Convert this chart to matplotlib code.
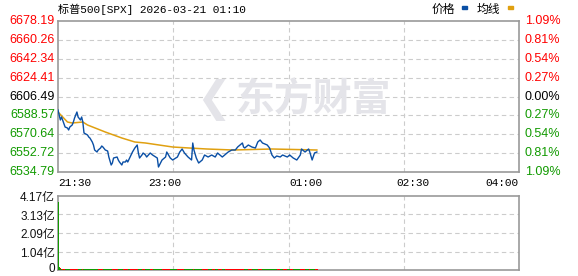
import numpy as np
import matplotlib.pyplot as plt

# ---- data ----
PREV_CLOSE = 6606.49
price_levels = [6678.19, 6660.26, 6642.34, 6624.41, 6606.49, 6588.57, 6570.64, 6552.72, 6534.79]
pct_labels = ['1.09%', '0.81%', '0.54%', '0.27%', '0.00%', '0.27%', '0.54%', '0.81%', '1.09%']
vol_levels = [0, 1.04, 2.09, 3.13, 4.17]
vol_labels = ['0', '1.04亿', '2.09亿', '3.13亿', '4.17亿']

# minutes after 21:30
tick_pos = [0, 90, 210, 300, 390]
tick_labels = ['21:30', '23:00', '01:00', '02:30', '04:00']

price_min = [0, 2, 3, 6, 8, 9, 10, 12, 13, 14, 16, 17, 19, 20, 21, 22, 25, 26, 27, 29,
             30, 31, 33, 34, 36, 37, 38, 40, 42, 43, 45, 46, 47, 50, 51, 52, 54, 55, 57, 58,
             59, 61, 63, 65, 67, 68, 69, 71, 72, 74, 75, 78, 80, 84, 85, 88, 91, 92, 95, 97,
             101, 103, 105, 107, 110, 113, 114, 115, 117, 119, 122, 124, 127, 130, 133, 135,
             139, 141, 144, 147, 150, 152, 156, 157, 158, 161, 164, 167, 169, 171, 173, 177,
             179, 181, 183, 185, 188, 190, 194, 196, 199, 202, 205, 206, 209, 212, 213, 215,
             217, 219]
price = [6593.67, 6584.17, 6587.02, 6577.52, 6576.57, 6574.67, 6577.52, 6579.42, 6582.27,
         6586.07, 6591.77, 6587.02, 6584.17, 6587.02, 6582.27, 6571.82, 6569.92, 6568.02,
         6567.08, 6563.28, 6560.43, 6555.68, 6553.78, 6555.68, 6557.58, 6559.48, 6558.53,
         6555.68, 6554.73, 6549.03, 6541.43, 6543.33, 6548.08, 6549.03, 6546.18, 6544.28,
         6541.43, 6544.28, 6544.28, 6546.18, 6544.28, 6549.03, 6553.78, 6557.58, 6560.43,
         6552.83, 6548.08, 6550.93, 6552.83, 6550.93, 6549.03, 6552.83, 6550.93, 6548.08,
         6539.53, 6546.18, 6549.03, 6553.78, 6548.08, 6546.18, 6549.03, 6553.78, 6556.63,
         6552.83, 6549.03, 6546.18, 6562.33, 6555.68, 6548.08, 6543.33, 6546.18, 6550.93,
         6549.03, 6550.93, 6549.03, 6552.83, 6549.03, 6550.93, 6553.78, 6555.68, 6555.68,
         6558.53, 6562.33, 6558.53, 6557.58, 6560.43, 6558.53, 6557.58, 6563.28, 6565.18,
         6562.33, 6560.43, 6557.58, 6550.93, 6548.08, 6549.98, 6549.03, 6550.93, 6549.03,
         6550.93, 6548.08, 6546.18, 6550.93, 6556.63, 6553.78, 6556.63, 6553.78, 6546.18,
         6552.83, 6553.78]

avg_min = [0, 8, 12, 21, 25, 40, 54, 65, 74, 97, 111, 126, 148, 181, 219]
avg_price = [6591.77, 6582.27, 6581.32, 6582.27, 6579.42, 6572.77, 6567.08, 6563.28,
             6562.33, 6558.53, 6557.58, 6556.63, 6555.68, 6556.63, 6555.68]

# volume (亿): first minutes read, then a tiny base level
vol_min = [0, 1, 2]
vol_val = [3.83, 0.16, 0.10]
vol_up = [False, False, True]
tail_vol = 0.03

RED = '#ff0000'
GREEN = '#119a00'
BLUE = '#0a4fa5'
ORANGE = '#e0a010'
GRID = '#cccccc'
BORDER = '#999999'
MARK = '#e4e4e9'
NUM_FONT = ['Liberation Sans', 'DejaVu Sans']
MONO = ['Liberation Mono', 'Noto Sans CJK SC']
CJK = ['Noto Sans CJK SC', 'DejaVu Sans']

fig = plt.figure(figsize=(5.78, 2.76), dpi=100)
W, H = 578, 276


def px_axes(x0, y0, x1, y1):
    return fig.add_axes([x0 / W, 1 - y1 / H, (x1 - x0) / W, (y1 - y0) / H])


ax = px_axes(58, 21, 519, 172)
axv = px_axes(58, 196, 519, 270)

for a in (ax, axv):
    a.set_xlim(0, 390)
    for s in a.spines.values():
        s.set_color(BORDER)
        s.set_linewidth(1.2)
    a.set_xticks([])
    a.set_yticks([])
    for q in (97.5, 195, 292.5):
        a.axvline(q, color=GRID, lw=0.8, ls=(0, (4, 3)), zorder=0)

# ---- price pane ----
ax.set_ylim(price_levels[-1], price_levels[0])
for lv in price_levels[1:-1]:
    ax.axhline(lv, color=GRID, lw=0.8, ls=(0, (4, 3)), zorder=0)

# watermark
ax.text(0.385, 0.48, '东方财富', transform=ax.transAxes, ha='left', va='center',
        fontsize=28, fontweight='bold', color=MARK, family=CJK, zorder=0)
ax.text(0.30, 0.48, '❮', transform=ax.transAxes, ha='left', va='center',
        fontsize=30, fontweight='bold', color=MARK, family=['DejaVu Sans'], zorder=0)

ax.plot(avg_min, avg_price, color=ORANGE, lw=1.1, zorder=3)
ax.plot(price_min, price, color=BLUE, lw=1.0, zorder=4)

for lv, pl in zip(price_levels, pct_labels):
    if lv > PREV_CLOSE + 0.01:
        c = RED
    elif lv < PREV_CLOSE - 0.01:
        c = GREEN
    else:
        c = '#000000'
    ax.text(-3 / 461 * 390, lv, f'{lv:.2f}', ha='right', va='center', fontsize=9,
            color=c, family=NUM_FONT, clip_on=False)
    ax.text(395, lv, pl, ha='left', va='center', fontsize=9,
            color=c, family=NUM_FONT, clip_on=False)

for p, lab in zip(tick_pos, tick_labels):
    ha = 'left' if p == 0 else ('right' if p == 390 else 'center')
    ax.text(p, price_levels[-1] - 10, lab, ha=ha, va='center', fontsize=8,
            family=MONO, color='#000000', clip_on=False)

# ---- volume pane ----
axv.set_ylim(0, vol_levels[-1])
for lv in vol_levels[1:-1]:
    axv.axhline(lv, color=GRID, lw=0.8, ls=(0, (4, 3)), zorder=0)

axv.bar(vol_min, vol_val, width=0.9, align='edge',
        color=[RED if u else GREEN for u in vol_up], zorder=3)
tail_x = price_min[1:]
tail_w = np.diff(price_min + [220])[1:]
tail_c = [RED if b >= a else GREEN for a, b in zip(price[:-1], price[1:])]
axv.bar(tail_x, [tail_vol] * len(tail_x), width=tail_w, align='edge',
        color=tail_c, zorder=3)

for lv, lab in zip(vol_levels, vol_labels):
    yy = lv - 0.12 if lv > 0 else 0.05
    axv.text(-3 / 461 * 390, yy, lab, ha='right', va='center', fontsize=8.5,
             color='#111111', family=['Liberation Sans', 'Noto Sans CJK SC'], clip_on=False)

# ---- title and legend ----
fig.text(58 / W, 1 - 9 / H, '标普500[SPX] 2026-03-21 01:10', ha='left', va='center',
         fontsize=8, family=MONO, color='#000000')
fig.text(432 / W, 1 - 9 / H, '价格', ha='left', va='center', fontsize=8.5,
         family=CJK, color='#000000')
fig.patches.append(plt.Rectangle((462 / W, 1 - 9 / H), 5 / W, 3 / H,
                                 transform=fig.transFigure, color=BLUE))
fig.text(477 / W, 1 - 9 / H, '均线', ha='left', va='center', fontsize=8.5,
         family=CJK, color='#000000')
fig.patches.append(plt.Rectangle((508 / W, 1 - 9 / H), 5 / W, 3 / H,
                                 transform=fig.transFigure, color=ORANGE))

fig.savefig('out.png', dpi=100)
